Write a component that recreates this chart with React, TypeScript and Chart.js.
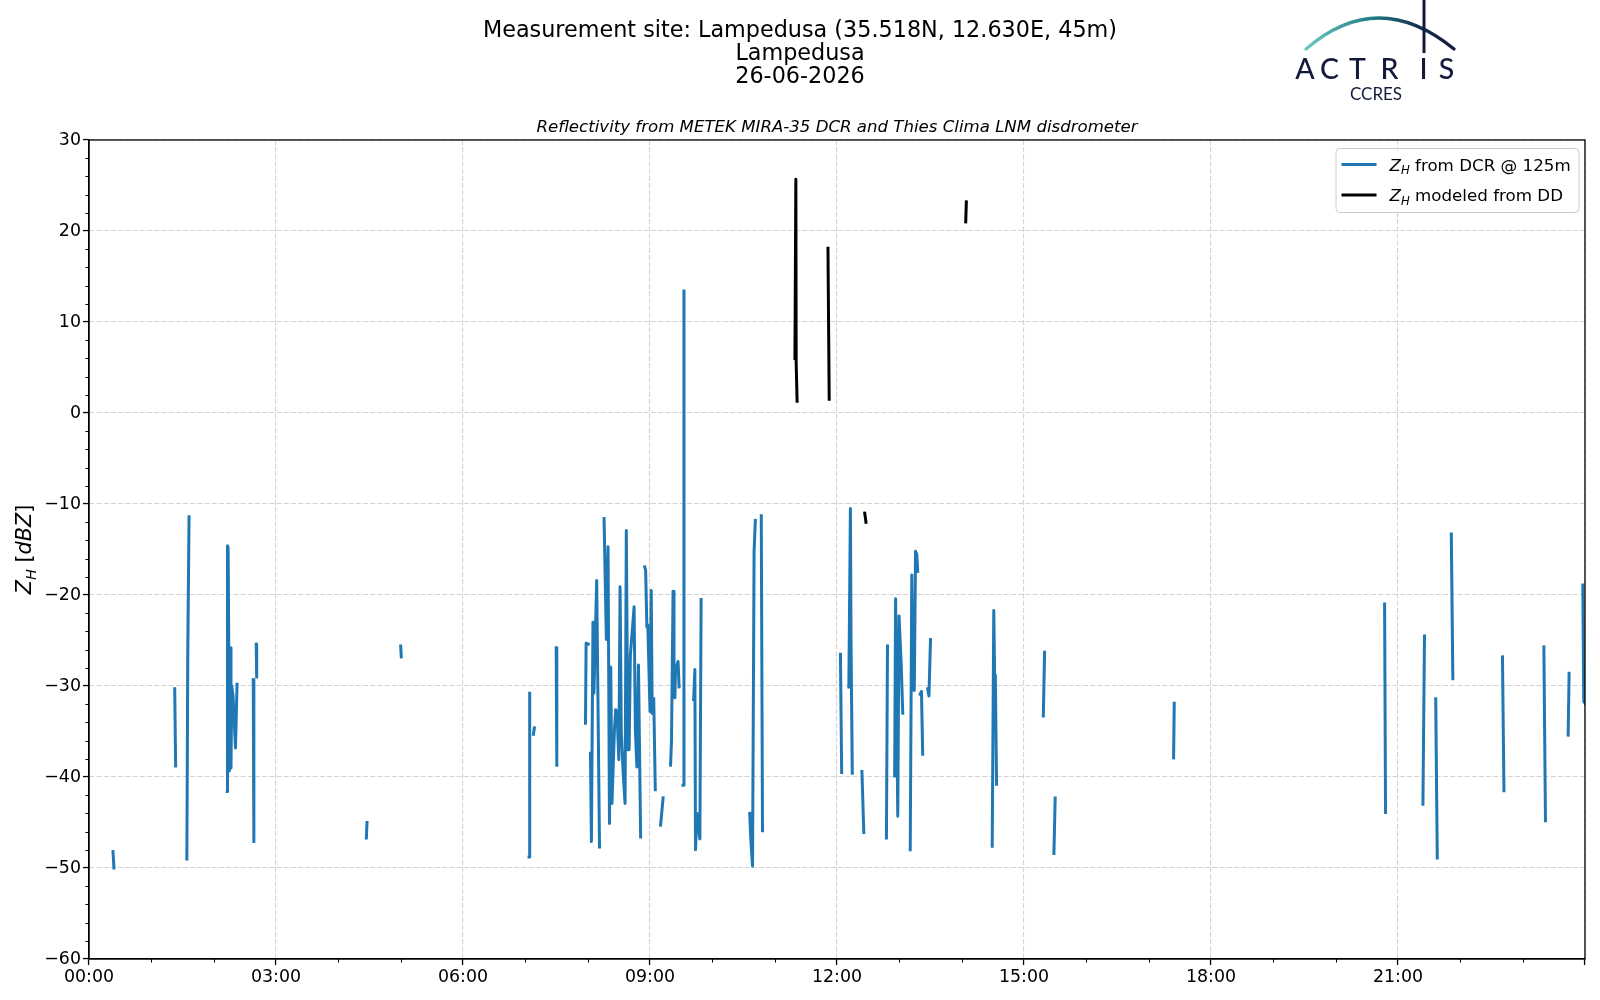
import React, { useEffect, useRef } from "react";
import { Chart, registerables } from "chart.js";

Chart.register(...registerables);

// ---------- data ----------
const X_TICK_HOURS = [0, 3, 6, 9, 12, 15, 18, 21, 24];
const X_TICK_LABELS = ["00:00", "03:00", "06:00", "09:00", "12:00", "15:00", "18:00", "21:00", ""];
const Y_TICK_VALUES = [-60, -50, -40, -30, -20, -10, 0, 10, 20, 30];

const TITLE_LINES = ["Measurement site: Lampedusa (35.518N, 12.630E, 45m)", "Lampedusa", "26-06-2026"];
const SUBTITLE = "Reflectivity from METEK MIRA-35 DCR and Thies Clima LNM disdrometer";
const LEGEND_DCR = " from DCR @ 125m";
const LEGEND_DD = " modeled from DD";

// [hour, dBZ] pairs, each inner list is one continuous piece of the series
const DCR_SEGMENTS: number[][][] = [
  [[0.385, -48.2], [0.40, -50.0]],
  [[1.375, -30.3], [1.39, -38.8]],
  [[1.57, -49.0], [1.585, -26.0], [1.605, -11.4]],
  [[2.218, -41.6], [2.222, -14.6], [2.232, -14.8], [2.255, -39.3], [2.265, -25.8], [2.278, -39.0], [2.29, -30.0], [2.31, -31.0], [2.35, -36.8], [2.375, -29.8]],
  [[2.635, -29.3], [2.645, -47.1]],
  [[2.683, -25.4], [2.69, -29.0]],
  [[4.45, -46.7], [4.46, -45.0]],
  [[5.0, -25.6], [5.01, -26.8]],
  [[7.06, -48.8], [7.07, -30.8]],
  [[7.13, -35.3], [7.145, -34.6]],
  [[7.495, -25.8], [7.505, -38.7]],
  [[7.965, -34.1], [7.975, -25.3], [8.01, -25.4]],
  [[8.045, -37.4], [8.06, -47.1], [8.085, -23.0], [8.10, -30.8], [8.145, -18.4], [8.19, -47.7]],
  [[8.263, -11.6], [8.30, -24.9], [8.327, -14.7], [8.35, -45.1], [8.37, -27.9], [8.39, -42.9], [8.43, -34.7], [8.45, -32.6], [8.47, -32.8], [8.50, -38.1], [8.52, -19.1], [8.54, -35.2], [8.57, -39.6], [8.60, -42.9], [8.62, -12.9], [8.645, -37.0], [8.665, -37.0], [8.685, -26.6], [8.745, -21.3], [8.765, -34.8], [8.79, -38.9], [8.815, -27.7], [8.85, -46.6]],
  [[8.915, -16.9], [8.93, -17.3], [8.95, -23.5], [8.965, -23.3], [9.0, -32.8], [9.02, -19.5], [9.035, -33.0]],
  [[9.06, -31.4], [9.085, -41.4]],
  [[9.17, -45.3], [9.21, -42.3]],
  [[9.33, -38.7], [9.345, -36.0], [9.37, -19.6], [9.385, -31.0], [9.40, -31.3], [9.41, -28.2], [9.45, -27.3], [9.467, -30.1]],
  [[9.53, -40.9], [9.545, 13.4]],
  [[9.70, -31.5], [9.72, -28.2], [9.73, -48.0], [9.755, -44.0], [9.80, -46.8], [9.82, -20.5]],
  [[10.60, -44.0], [10.617, -46.8], [10.645, -49.8], [10.67, -15.2], [10.69, -11.8]],
  [[10.785, -11.3], [10.805, -45.9]],
  [[12.055, -26.5], [12.075, -39.5]],
  [[12.19, -30.1], [12.215, -10.5], [12.225, -25.0], [12.245, -39.6]],
  [[12.40, -39.4], [12.43, -46.1]],
  [[12.793, -46.7], [12.81, -25.6]],
  [[12.925, -39.9], [12.94, -20.4], [12.975, -44.3], [12.995, -22.3], [13.03, -27.6], [13.055, -33.0]],
  [[13.175, -48.0], [13.20, -17.8], [13.215, -30.4], [13.23, -22.0], [13.24, -30.5], [13.26, -15.2], [13.28, -15.5], [13.295, -17.4]],
  [[13.335, -30.9], [13.355, -30.6], [13.375, -37.5]],
  [[13.455, -30.3], [13.475, -31.1], [13.50, -24.9]],
  [[14.49, -47.6], [14.515, -21.7], [14.53, -29.5], [14.54, -28.8], [14.56, -40.8]],
  [[15.31, -33.3], [15.33, -26.3]],
  [[15.48, -48.4], [15.50, -42.3]],
  [[17.40, -37.9], [17.41, -31.9]],
  [[20.785, -21.0], [20.80, -43.9]],
  [[21.40, -43.0], [21.425, -24.5]],
  [[21.605, -31.4], [21.63, -48.9]],
  [[21.855, -13.3], [21.88, -29.2]],
  [[22.676, -26.8], [22.70, -41.5]],
  [[23.34, -25.7], [23.366, -44.8]],
  [[23.73, -35.4], [23.745, -28.6]],
  [[23.965, -18.9], [23.98, -31.7], [24.0, -31.9]],
];

const DD_SEGMENTS: number[][][] = [
  [[11.325, 6.0], [11.34, 25.7], [11.345, 5.5], [11.36, 1.3]],
  [[11.855, 18.1], [11.875, 1.5]],
  [[12.445, -11.0], [12.465, -12.0]],
  [[14.065, 21.0], [14.075, 23.2]],
];

// ---------- helpers ----------
const FONT = "'DejaVu Sans', 'Noto Sans', sans-serif";

function toLineData(segs: number[][][]) {
  const out: { x: number; y: number | null }[] = [];
  segs.forEach((seg, i) => {
    if (i > 0) out.push({ x: seg[0][0], y: null });
    seg.forEach(([x, y]) => out.push({ x, y }));
  });
  return out;
}

type Part = { t: string; it?: boolean; sub?: boolean };

function richWidth(ctx: CanvasRenderingContext2D, parts: Part[], size: number) {
  let w = 0;
  for (const p of parts) {
    ctx.font = `${p.it ? "italic " : ""}${p.sub ? size * 0.7 : size}px ${FONT}`;
    w += ctx.measureText(p.t).width;
  }
  return w;
}

function drawRich(ctx: CanvasRenderingContext2D, parts: Part[], x: number, y: number, size: number, align: "left" | "center" = "left") {
  let cx = x;
  if (align === "center") cx = x - richWidth(ctx, parts, size) / 2;
  ctx.textAlign = "left";
  ctx.textBaseline = "alphabetic";
  for (const p of parts) {
    ctx.font = `${p.it ? "italic " : ""}${p.sub ? size * 0.7 : size}px ${FONT}`;
    ctx.fillText(p.t, cx, y + (p.sub ? size * 0.22 : 0));
    cx += ctx.measureText(p.t).width;
  }
}

const decorPlugin = {
  id: "decor",
  afterDraw(chart: any) {
    const { ctx, chartArea: ca, scales } = chart;
    const xs = scales.x;
    const ys = scales.y;
    ctx.save();
    ctx.fillStyle = "#000";
    ctx.strokeStyle = "#000";

    // minor ticks
    ctx.lineWidth = 1;
    ctx.beginPath();
    for (let h = 1; h < 24; h++) {
      if (h % 3 === 0) continue;
      const px = Math.round(xs.getPixelForValue(h)) + 0.5;
      ctx.moveTo(px, ca.bottom);
      ctx.lineTo(px, ca.bottom + 3.5);
    }
    for (let v = -58; v < 30; v += 2) {
      if (v % 10 === 0) continue;
      const py = Math.round(ys.getPixelForValue(v)) + 0.5;
      ctx.moveTo(ca.left - 3.5, py);
      ctx.lineTo(ca.left, py);
    }
    ctx.stroke();

    // frame
    ctx.lineWidth = 1.3;
    ctx.strokeRect(ca.left, ca.top, ca.right - ca.left, ca.bottom - ca.top);

    // titles
    ctx.textAlign = "center";
    ctx.textBaseline = "alphabetic";
    ctx.font = `22.3px ${FONT}`;
    const tb = [36.5, 59.5, 83];
    TITLE_LINES.forEach((t, i) => ctx.fillText(t, 800, tb[i]));
    ctx.font = `italic 16.6px ${FONT}`;
    ctx.fillText(SUBTITLE, (ca.left + ca.right) / 2, 132);

    // y label
    ctx.save();
    ctx.translate(31, (ca.top + ca.bottom) / 2);
    ctx.rotate(-Math.PI / 2);
    drawRich(ctx, [{ t: "Z", it: true }, { t: "H", it: true, sub: true }, { t: " [" }, { t: "dBZ", it: true }, { t: "]" }], 0, 0, 20.8, "center");
    ctx.restore();

    // legend
    const lx = 1336, ly = 148.5, lw = 243, lh = 64, r = 4;
    ctx.beginPath();
    ctx.moveTo(lx + r, ly);
    ctx.arcTo(lx + lw, ly, lx + lw, ly + lh, r);
    ctx.arcTo(lx + lw, ly + lh, lx, ly + lh, r);
    ctx.arcTo(lx, ly + lh, lx, ly, r);
    ctx.arcTo(lx, ly, lx + lw, ly, r);
    ctx.closePath();
    ctx.fillStyle = "rgba(255,255,255,0.8)";
    ctx.fill();
    ctx.strokeStyle = "#cccccc";
    ctx.lineWidth = 1;
    ctx.stroke();
    const rows = [
      { c: "#1f77b4", y: 164.5, t: LEGEND_DCR },
      { c: "#000000", y: 195, t: LEGEND_DD },
    ];
    for (const row of rows) {
      ctx.strokeStyle = row.c;
      ctx.lineWidth = 3;
      ctx.beginPath();
      ctx.moveTo(1341.5, row.y);
      ctx.lineTo(1376.5, row.y);
      ctx.stroke();
      ctx.fillStyle = "#000";
      drawRich(ctx, [{ t: "Z", it: true }, { t: "H", it: true, sub: true }, { t: row.t }], 1389.5, row.y + 6.1, 16.7);
    }

    // logo
    const navy = "#131a3c";
    const grad = ctx.createLinearGradient(1306, 0, 1455, 0);
    grad.addColorStop(0, "#6cc6c0");
    grad.addColorStop(0.45, "#1f7a86");
    grad.addColorStop(0.75, "#16304f");
    grad.addColorStop(1, navy);
    ctx.strokeStyle = grad;
    ctx.lineWidth = 3.2;
    ctx.lineCap = "round";
    ctx.beginPath();
    ctx.moveTo(1306, 49);
    ctx.quadraticCurveTo(1378, -13, 1454, 49);
    ctx.stroke();
    ctx.strokeStyle = navy;
    ctx.lineWidth = 3;
    ctx.lineCap = "butt";
    ctx.beginPath();
    ctx.moveTo(1424, 0);
    ctx.lineTo(1424, 53);
    ctx.stroke();
    ctx.fillStyle = navy;
    ctx.textAlign = "center";
    ctx.font = `500 28.5px Lato, ${FONT}`;
    const letters = ["A", "C", "T", "R", "I", "S"];
    const lxs = [1305, 1329.5, 1357.5, 1389.5, 1423.5, 1446.5];
    letters.forEach((l, i) => ctx.fillText(l, lxs[i], 78.5));
    ctx.font = `17px Lato, ${FONT}`;
    ctx.fillText("CCRES", 1376, 99.5);

    ctx.restore();
  },
};

export default function App() {
  const canvasRef = useRef<HTMLCanvasElement | null>(null);

  useEffect(() => {
    const canvas = canvasRef.current;
    if (!canvas) return;
    const tickFont = { family: FONT, size: 17.4 };
    const lineStyle = {
      borderWidth: 3,
      pointRadius: 0,
      tension: 0,
      spanGaps: false,
      fill: false,
      borderCapStyle: "square",
      borderJoinStyle: "round",
    };
    const chart = new Chart(canvas, {
      type: "line",
      data: {
        datasets: [
          { label: "DCR", data: toLineData(DCR_SEGMENTS), borderColor: "#1f77b4", backgroundColor: "#1f77b4", order: 1, ...lineStyle },
          { label: "DD", data: toLineData(DD_SEGMENTS), borderColor: "#000000", backgroundColor: "#000000", order: 0, ...lineStyle },
        ],
      } as any,
      options: {
        animation: false,
        responsive: false,
        devicePixelRatio: 1,
        events: [],
        layout: { padding: { top: 0, right: 15, bottom: 0, left: 0 } },
        plugins: {
          legend: { display: false },
          tooltip: { enabled: false },
          title: { display: true, text: "", font: { size: 10, lineHeight: 1 }, padding: { top: 0, bottom: 130 } },
        },
        scales: {
          x: {
            type: "linear",
            min: 0,
            max: 24,
            afterBuildTicks: (s: any) => {
              s.ticks = X_TICK_HOURS.map((v) => ({ value: v }));
            },
            afterFit: (s: any) => {
              s.height = 41;
            },
            ticks: {
              autoSkip: false,
              maxRotation: 0,
              color: "#000",
              font: tickFont,
              padding: 2,
              callback: (v: any) => {
                const i = X_TICK_HOURS.indexOf(Number(v));
                return i >= 0 ? X_TICK_LABELS[i] : "";
              },
            },
            grid: { color: "#d3d3d3", lineWidth: 1.1, drawTicks: true, tickLength: 6, tickColor: "#000", tickWidth: 1.3 },
            border: { display: true, color: "#000", width: 1.3, dash: [5, 2.2] },
          },
          y: {
            type: "linear",
            min: -60,
            max: 30,
            afterBuildTicks: (s: any) => {
              s.ticks = Y_TICK_VALUES.map((v) => ({ value: v }));
            },
            afterFit: (s: any) => {
              s.width = 89;
            },
            ticks: {
              color: "#000",
              font: tickFont,
              padding: 2,
              callback: (v: any) => {
                const n = Number(v);
                return n < 0 ? "\u2212" + Math.abs(n) : String(n);
              },
            },
            grid: { color: "#d3d3d3", lineWidth: 1.1, drawTicks: true, tickLength: 6, tickColor: "#000", tickWidth: 1.3 },
            border: { display: true, color: "#000", width: 1.3, dash: [5, 2.2] },
          },
        },
      } as any,
      plugins: [decorPlugin],
    });
    return () => chart.destroy();
  }, []);

  return (
    <div style={{ position: "absolute", left: 0, top: 0, width: 1600, height: 1000, background: "#fff" }}>
      <canvas ref={canvasRef} width={1600} height={1000} style={{ display: "block", width: 1600, height: 1000 }} />
    </div>
  );
}
